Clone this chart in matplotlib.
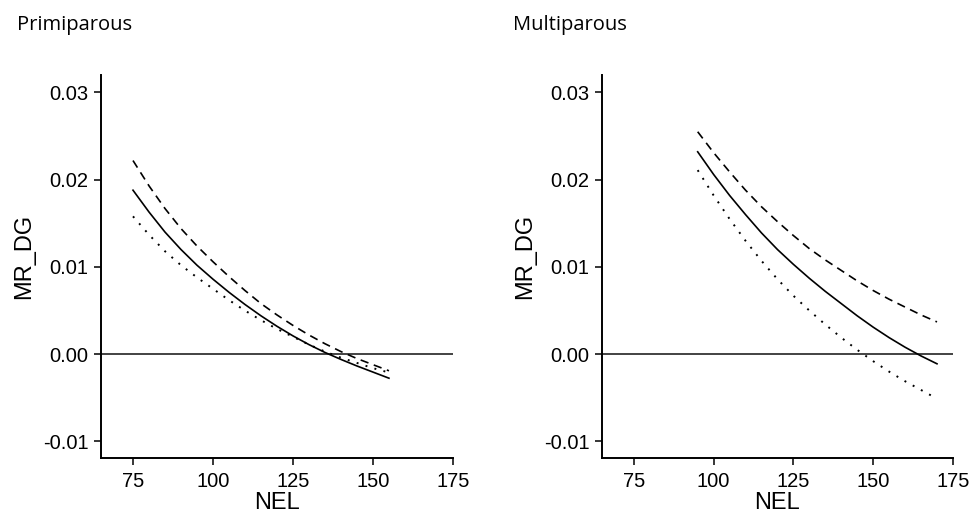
import matplotlib
matplotlib.use("Agg")
import matplotlib.pyplot as plt
import numpy as np

# NEL grid for each panel
nel_primi = [75, 80, 85, 90, 95, 100, 105, 110, 115, 120, 125, 130, 135, 140, 145, 150, 155]
nel_multi = [95, 100, 105, 110, 115, 120, 125, 130, 135, 140, 145, 150, 155, 160, 165, 170]

# Primiparous curves
primi_solid = [0.0188, 0.0163, 0.0140, 0.0120, 0.0102, 0.0086, 0.0071, 0.0057, 0.0044, 0.0032,
               0.0021, 0.0011, 0.0002, -0.0006, -0.00135, -0.00205, -0.00275]
primi_dashed = [0.0222, 0.0193, 0.0167, 0.0144, 0.0124, 0.0106, 0.0089, 0.0073, 0.0058, 0.0045,
                0.0033, 0.0022, 0.0012, 0.0003, -0.0005, -0.0012, -0.0019]
primi_dotted = [0.0158, 0.0137, 0.0118, 0.0102, 0.0088, 0.0075, 0.0062, 0.0050, 0.0039, 0.0029,
                0.0020, 0.0011, 0.0003, -0.0004, -0.0010, -0.0016, -0.0021]

# Multiparous curves
multi_solid = [0.0232, 0.0206, 0.0182, 0.0160, 0.0139, 0.0120, 0.0103, 0.0087, 0.0072, 0.0058,
               0.0044, 0.0031, 0.0019, 0.0008, -0.0002, -0.0011]
multi_dashed = [0.0255, 0.0231, 0.0209, 0.0188, 0.0169, 0.0152, 0.0136, 0.0121, 0.0108, 0.0096,
                0.0084, 0.0073, 0.0063, 0.0054, 0.0045, 0.0037]
multi_dotted = [0.0211, 0.0182, 0.0155, 0.0130, 0.0107, 0.0086, 0.0067, 0.0050, 0.0034, 0.0019,
                0.0005, -0.0008, -0.0020, -0.0031, -0.0041, -0.0051]

xticks = [75, 100, 125, 150, 175]
yticks = [-0.01, 0.00, 0.01, 0.02, 0.03]
ytick_labels = ["-0.01", "0.00", "0.01", "0.02", "0.03"]

plt.rcParams['font.family'] = ['Liberation Sans', 'DejaVu Sans']

fig = plt.figure(figsize=(9.72, 5.2), dpi=100)
ax1 = fig.add_axes([0.1039, 0.1192, 0.3621, 0.7365])
ax2 = fig.add_axes([0.6193, 0.1192, 0.3611, 0.7365])

panels = [
    (ax1, nel_primi, primi_solid, primi_dashed, primi_dotted, "Primiparous", 17),
    (ax2, nel_multi, multi_solid, multi_dashed, multi_dotted, "Multiparous", 513),
]

for ax, x, s, d, o, title, tx in panels:
    ax.axhline(0, color="#222222", lw=1.2, zorder=1)
    ax.plot(x, s, color="black", lw=1.2)
    ax.plot(x, d, color="black", lw=1.2, dashes=(5.0, 3.4))
    ax.plot(x, o, color="black", lw=1.4, dashes=(1.0, 3.8))

    ax.set_xlim(65, 175)
    ax.set_ylim(-0.0119, 0.0320)
    ax.set_xticks(xticks)
    ax.set_yticks(yticks)
    ax.set_yticklabels(ytick_labels)
    ax.tick_params(axis="both", direction="out", length=5, width=1.1,
                   labelsize=14.5, colors="black")
    ax.tick_params(axis="y", pad=4)
    ax.tick_params(axis="x", pad=5)
    for side in ["top", "right"]:
        ax.spines[side].set_visible(False)
    for side in ["left", "bottom"]:
        ax.spines[side].set_linewidth(1.4)
    ax.set_xlabel("NEL", fontsize=17)
    ax.set_ylabel("MR_DG", fontsize=17)
    ax.xaxis.set_label_coords(0.5, -0.09)
    ax.yaxis.set_label_coords(-0.219, 0.527)
    ax.yaxis.label.set_va("center")

    fig.text(tx / 972, 1 - 25 / 520, title, fontsize=14.5, family="Open Sans",
             ha="left", va="center")

fig.savefig("out.png", dpi=100)
